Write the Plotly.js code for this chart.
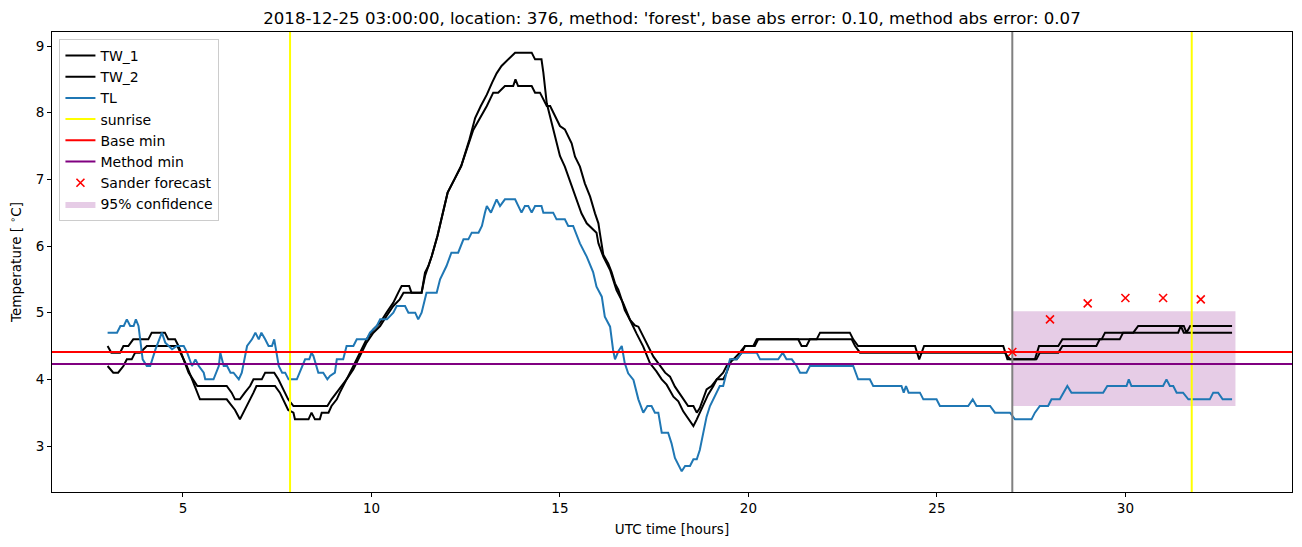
<!DOCTYPE html>
<html>
<head>
<meta charset="utf-8">
<script src="https://cdn.plot.ly/plotly-3.0.1.min.js"></script>
<style>html,body{margin:0;padding:0;background:#fff;}#chart{width:1302px;height:547px;}</style>
</head>
<body>
<div id="chart"></div>
<script>
// ---- data ----
const tw1Time = [3.0,3.1,3.33,3.42,3.55,3.68,4.08,4.17,4.52,4.61,4.79,4.88,5.15,5.38,6.16,6.29,6.38,6.51,6.64,6.78,6.87,7.09,7.18,7.42,7.53,7.62,7.79,7.93,8.83,8.94,9.08,9.2,9.34,9.52,9.7,9.87,10.05,10.23,10.4,10.58,10.71,10.8,11.0,11.06,11.33,11.42,11.51,11.6,11.75,11.88,12.02,12.2,12.38,12.6,12.75,12.9,13.06,13.2,13.32,13.45,13.63,13.81,14.25,14.34,14.51,14.56,14.65,14.82,15.0,15.13,15.31,15.44,15.57,15.71,15.88,15.97,16.02,16.15,16.33,16.5,16.68,16.86,17.03,17.21,17.39,17.56,17.7,17.83,18.01,18.14,18.27,18.4,18.54,18.63,18.8,18.93,19.07,19.16,19.33,19.42,19.55,19.69,19.82,19.91,20.17,20.26,22.74,22.83,22.96,26.8,26.94,27.64,27.73,28.22,28.33,29.23,29.32,29.85,29.94,31.4,31.47,31.55,32.83];
const tw1Vals = [4.5,4.4,4.4,4.5,4.5,4.6,4.6,4.7,4.7,4.6,4.6,4.5,4.1,3.9,3.9,3.8,3.7,3.7,3.8,3.9,4.0,4.0,4.1,4.1,4.0,3.9,3.7,3.6,3.6,3.7,3.8,3.9,4.0,4.2,4.4,4.6,4.75,4.85,5.0,5.15,5.3,5.4,5.4,5.3,5.3,5.6,5.7,5.85,6.15,6.45,6.8,7.0,7.2,7.6,7.92,8.1,8.27,8.45,8.59,8.7,8.8,8.9,8.9,8.8,8.8,8.6,8.14,7.74,7.35,7.19,6.89,6.69,6.49,6.34,6.24,6.2,6.04,5.84,5.64,5.34,5.14,4.89,4.69,4.49,4.24,4.12,4.0,3.92,3.74,3.67,3.52,3.42,3.3,3.4,3.6,3.77,3.9,4.0,4.0,4.1,4.3,4.3,4.4,4.5,4.5,4.6,4.6,4.5,4.4,4.4,4.3,4.3,4.4,4.4,4.5,4.5,4.6,4.6,4.7,4.7,4.8,4.7,4.7];

const tw2Time = [3.0,3.15,3.28,3.42,3.51,3.64,3.73,3.86,4.04,4.85,5.1,5.45,6.16,6.29,6.38,6.51,6.64,6.78,6.87,6.95,7.44,7.57,7.66,7.79,7.93,7.97,8.33,8.41,8.5,8.63,8.68,8.86,8.94,9.08,9.16,9.34,9.52,9.7,9.87,10.05,10.23,10.4,10.58,10.75,10.85,11.33,11.42,11.51,11.6,11.75,11.88,12.02,12.2,12.38,12.7,13.06,13.23,13.36,13.54,13.76,13.82,13.89,14.25,14.34,14.47,14.65,14.74,14.82,15.0,15.13,15.31,15.4,15.53,15.66,15.8,15.93,16.02,16.06,16.15,16.28,16.37,16.46,16.55,16.64,16.72,16.86,16.99,17.08,17.21,17.34,17.48,17.65,17.79,17.92,18.05,18.23,18.4,18.54,18.63,18.71,18.89,19.02,19.16,19.33,19.42,19.6,19.77,19.91,20.13,20.22,21.32,21.41,21.54,21.63,21.81,21.9,22.69,22.78,22.91,24.42,24.53,24.66,26.76,26.87,27.6,27.71,28.22,28.33,29.37,29.46,30.21,30.34,31.55,31.62,31.72,32.83];
const tw2Vals = [4.2,4.1,4.1,4.2,4.3,4.3,4.4,4.4,4.5,4.5,4.2,3.7,3.7,3.6,3.54,3.4,3.54,3.7,3.8,3.9,3.9,3.8,3.7,3.54,3.5,3.4,3.4,3.5,3.4,3.4,3.5,3.5,3.6,3.7,3.8,4.0,4.15,4.35,4.55,4.7,4.8,4.95,5.1,5.2,5.3,5.3,5.55,5.7,5.85,6.15,6.45,6.8,7.0,7.2,7.74,8.1,8.3,8.3,8.4,8.4,8.5,8.4,8.4,8.3,8.3,8.1,8.1,8.0,7.8,7.75,7.54,7.34,7.19,6.94,6.74,6.49,6.34,6.19,5.87,5.74,5.61,5.44,5.34,5.19,5.04,4.89,4.81,4.79,4.64,4.49,4.34,4.21,4.1,4.04,3.89,3.74,3.6,3.6,3.5,3.57,3.85,3.9,4.0,4.1,4.2,4.3,4.4,4.5,4.5,4.6,4.6,4.5,4.5,4.6,4.6,4.7,4.7,4.6,4.5,4.5,4.3,4.5,4.5,4.3,4.3,4.5,4.5,4.6,4.6,4.7,4.7,4.8,4.8,4.7,4.8,4.8];

const tlTime = [3.0,3.25,3.34,3.43,3.51,3.6,3.69,3.75,3.82,3.87,3.93,4.04,4.13,4.27,4.44,4.53,4.62,4.71,4.84,5.02,5.11,5.24,5.33,5.42,5.55,5.59,5.81,5.95,5.99,6.08,6.17,6.26,6.34,6.48,6.56,6.7,6.83,6.92,7.01,7.08,7.18,7.27,7.36,7.42,7.54,7.63,7.71,7.8,8.02,8.24,8.35,8.41,8.46,8.59,8.72,8.83,8.9,9.03,9.08,9.25,9.34,9.52,9.61,9.87,9.96,10.14,10.23,10.41,10.58,10.67,10.89,10.98,11.16,11.24,11.33,11.46,11.73,11.82,11.99,12.12,12.3,12.44,12.57,12.66,12.84,12.93,13.01,13.06,13.17,13.32,13.41,13.54,13.81,13.98,14.07,14.16,14.25,14.34,14.51,14.56,14.82,14.91,15.13,15.22,15.35,15.53,15.71,15.88,15.97,16.11,16.19,16.33,16.41,16.46,16.55,16.64,16.72,16.81,16.95,17.08,17.21,17.32,17.43,17.52,17.61,17.7,17.87,17.96,18.05,18.14,18.23,18.32,18.45,18.54,18.63,18.71,18.8,18.89,18.98,19.07,19.16,19.24,19.33,19.42,19.51,19.69,19.82,20.22,20.31,20.79,20.91,21.01,21.15,21.28,21.37,21.54,21.63,22.78,22.91,23.22,23.31,24.06,24.12,24.18,24.25,24.55,24.64,24.99,25.08,25.83,25.95,26.05,26.41,26.54,26.94,27.07,27.51,27.6,27.73,27.95,28.04,28.26,28.35,28.46,28.57,29.41,29.52,30.03,30.09,30.16,31.0,31.09,31.18,31.27,31.36,31.53,31.67,32.24,32.33,32.46,32.58,32.83];
const tlVals = [4.7,4.7,4.8,4.8,4.9,4.8,4.8,4.9,4.8,4.6,4.3,4.2,4.2,4.45,4.7,4.55,4.5,4.45,4.5,4.5,4.4,4.2,4.3,4.2,4.1,4.0,4.0,4.2,4.4,4.2,4.2,4.1,4.1,4.0,4.1,4.5,4.6,4.7,4.6,4.7,4.6,4.5,4.5,4.6,4.2,4.1,4.1,4.0,4.0,4.3,4.3,4.4,4.35,4.1,4.1,4.0,4.05,4.1,4.3,4.3,4.5,4.5,4.6,4.6,4.7,4.8,4.9,4.9,5.0,5.1,5.1,5.0,5.0,4.9,5.0,5.3,5.3,5.5,5.7,5.9,5.9,6.1,6.1,6.2,6.2,6.3,6.5,6.6,6.5,6.7,6.6,6.7,6.7,6.5,6.6,6.6,6.5,6.6,6.6,6.5,6.5,6.4,6.4,6.3,6.3,6.04,5.84,5.61,5.39,5.24,4.94,4.79,4.44,4.3,4.42,4.5,4.24,4.09,3.99,3.7,3.5,3.6,3.6,3.5,3.5,3.2,3.2,3.04,2.82,2.72,2.62,2.7,2.7,2.8,2.8,2.94,3.17,3.44,3.6,3.7,3.8,3.9,3.9,4.1,4.3,4.3,4.4,4.4,4.3,4.3,4.4,4.3,4.3,4.2,4.1,4.1,4.2,4.2,4.0,4.0,3.9,3.9,3.8,3.9,3.8,3.8,3.7,3.7,3.6,3.6,3.7,3.6,3.6,3.5,3.5,3.4,3.4,3.5,3.6,3.6,3.7,3.7,3.8,3.9,3.8,3.8,3.9,3.9,4.0,3.9,3.9,4.0,3.9,3.9,3.8,3.8,3.7,3.7,3.8,3.8,3.7,3.7];

const sunriseTimes = [7.84, 31.76];
const nowTime = 27.0;
const baseMin = 4.41;
const methodMin = 4.23;
const sanderTimes = [27, 28, 29, 30, 31, 32];
const sanderVals = [4.41, 4.90, 5.14, 5.22, 5.22, 5.20];
const confTimes = [27.0, 32.92];
const confLow = 3.60;
const confHigh = 5.02;
const titleText = "2018-12-25 03:00:00, location: 376, method: 'forest', base abs error: 0.10, method abs error: 0.07";

// ---- traces ----
const FAR_LO = -100, FAR_HI = 100;
const LW = 2;
const sunX = [], sunY = [];
sunriseTimes.forEach(t => { sunX.push(t, t, null); sunY.push(FAR_LO, FAR_HI, null); });

const traces = [
  {x:[confTimes[0],confTimes[1],confTimes[1],confTimes[0],confTimes[0]], y:[confLow,confLow,confHigh,confHigh,confLow],
   type:'scatter', mode:'lines', fill:'toself', fillcolor:'rgba(128,0,128,0.2)', line:{width:0, color:'rgba(0,0,0,0)'},
   name:'95% confidence', legendrank:8, hoverinfo:'skip'},
  {x:tw1Time, y:tw1Vals, type:'scatter', mode:'lines', line:{color:'black', width:LW}, name:'TW_1', legendrank:1},
  {x:tw2Time, y:tw2Vals, type:'scatter', mode:'lines', line:{color:'black', width:LW}, name:'TW_2', legendrank:2},
  {x:tlTime, y:tlVals, type:'scatter', mode:'lines', line:{color:'#1f77b4', width:LW}, name:'TL', legendrank:3},
  {x:[nowTime, nowTime], y:[FAR_LO, FAR_HI], type:'scatter', mode:'lines', line:{color:'grey', width:LW}, showlegend:false},
  {x:sunX, y:sunY, type:'scatter', mode:'lines', line:{color:'yellow', width:LW}, name:'sunrise', legendrank:4},
  {x:[FAR_LO, FAR_HI], y:[baseMin, baseMin], type:'scatter', mode:'lines', line:{color:'red', width:LW}, name:'Base min', legendrank:5},
  {x:[FAR_LO, FAR_HI], y:[methodMin, methodMin], type:'scatter', mode:'lines', line:{color:'purple', width:LW}, name:'Method min', legendrank:6},
  {x:sanderTimes, y:sanderVals, type:'scatter', mode:'markers', marker:{symbol:'x-thin-open', size:8, color:'red', line:{color:'red', width:1.6}}, name:'Sander forecast', legendrank:7}
];

const fontFam = 'DejaVu Sans, sans-serif';
const layout = {
  width:1302, height:547,
  margin:{l:52, r:10, t:32, b:55},
  paper_bgcolor:'white', plot_bgcolor:'white',
  font:{family:fontFam, size:13.5, color:'black'},
  title:{text:titleText, font:{family:fontFam, size:16.6, color:'black'}, x:0.5161, xanchor:'center', y:0.967, yanchor:'middle'},
  showlegend:true,
  legend:{x:0.006, y:0.985, xanchor:'left', yanchor:'top', bgcolor:'rgba(255,255,255,0.8)', bordercolor:'#cccccc', borderwidth:1,
          font:{family:fontFam, size:14, color:'black'}, tracegroupgap:0, itemwidth:30},
  xaxis:{range:[1.525, 34.42], autorange:false, showgrid:false, zeroline:false, showline:true, linecolor:'black', linewidth:1, mirror:true,
         ticks:'outside', ticklen:4, tickcolor:'black', tickvals:[5,10,15,20,25,30], ticktext:['5','10','15','20','25','30'],
         tickfont:{family:fontFam, size:13.5}, title:{text:'UTC time [hours]', font:{family:fontFam, size:13.5}, standoff:9}},
  yaxis:{range:[2.31, 9.21], autorange:false, showgrid:false, zeroline:false, showline:true, linecolor:'black', linewidth:1, mirror:true,
         ticks:'outside', ticklen:4, tickcolor:'black', tickvals:[3,4,5,6,7,8,9], ticktext:['3','4','5','6','7','8','9'],
         tickfont:{family:fontFam, size:13.5}, title:{text:'Temperature [ <sup>∘</sup>C]', font:{family:fontFam, size:13.5}, standoff:10}}
};

Plotly.newPlot('chart', traces, layout, {staticPlot:true, displayModeBar:false});
</script>
</body>
</html>
